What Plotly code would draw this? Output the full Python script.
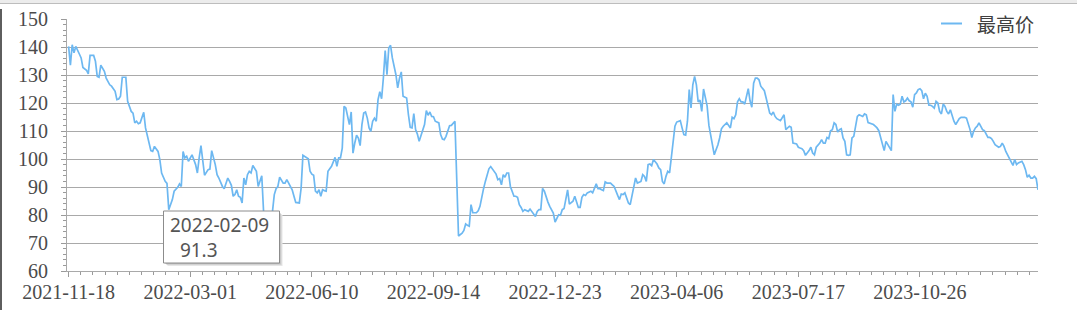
import plotly.graph_objects as go

# ---- data: trading-day index (0 = 2021-11-18) and daily high price ----
day_idx = [
    0, 1, 2, 3, 4, 5, 6, 7, 8, 10, 11, 12, 14, 15, 16, 17, 18, 20, 21, 23, 24, 26, 27, 28, 29, 30, 32, 33, 35, 36,
    37, 38, 39, 40, 42, 43, 45, 46, 47, 48, 50, 51, 52, 54, 55, 56, 58, 59, 61, 62, 63, 64, 65, 66, 67, 68, 69, 71,
    72, 73, 74, 76, 78, 79, 80, 82, 83, 84, 86,
    87, 89, 90, 91, 92, 93, 94, 95, 96, 97, 98, 99, 100, 101, 102, 103, 105, 106, 108, 109, 111, 114, 115, 116, 117,
    118, 120, 121, 122, 123, 125, 126, 127, 129, 130, 131, 133, 134, 135, 136, 137, 138, 139, 140, 141, 142, 143, 144,
    145, 146, 147, 149, 150, 151, 152, 153, 154, 155, 156, 157, 158, 159, 160, 161, 162, 163, 164, 165, 166, 167, 168,
    169, 170, 171, 172, 173, 174, 175,
    176, 177, 178, 179, 180, 181, 183, 184, 185, 186, 187, 189, 190, 191, 192, 193, 194, 195, 196, 198, 199, 200, 201,
    202, 203, 204, 205, 207, 208, 209, 210, 211, 213, 214, 215, 216, 218, 219, 220, 221, 222, 223, 224, 225, 226, 228,
    229, 230, 231, 232, 233, 235, 236, 237, 239, 240, 241, 242, 243, 244, 245, 246, 247, 249, 250, 251, 252, 253, 254,
    255, 256, 257, 258, 260, 261, 262, 263, 264, 265, 266, 267, 268,
    269, 271, 272, 273, 274, 275, 276, 277, 279, 280, 281, 282, 283, 285, 286, 287, 288, 289, 290, 291, 292, 293, 295,
    296, 297, 298, 299, 300, 301, 302, 303, 304, 305, 307, 308, 309, 310, 311, 312, 313, 314, 315, 316, 317, 318, 320,
    321, 322, 323, 324, 325, 326, 327, 329, 330, 331, 332, 333, 334, 335, 336, 337, 338, 339, 340, 342, 343, 344, 345,
    346, 347, 348, 349, 350, 351, 352, 353, 354, 355, 356, 357, 358, 359, 360, 361, 362, 363, 364, 365, 366, 367, 368,
    370, 371, 372, 373, 374, 375, 376, 377, 378, 380, 381, 382, 383, 384, 385, 386, 387, 389, 390, 391, 392, 393, 394,
    395, 396, 398, 399, 400, 401, 402, 403, 404, 405, 407, 408, 409, 410, 411, 412, 414, 415, 416, 417, 418, 419, 420,
    421, 422, 423, 424, 425, 426, 427, 428, 429, 430, 431, 432, 433, 434, 435, 436, 437, 438, 439, 440, 441, 442, 443,
    444, 445, 446, 447, 448, 450, 451, 452, 453, 454, 455, 456, 457, 458, 459, 460, 461, 462, 463, 464, 465, 466, 467,
    468, 469, 470, 471, 472, 473, 474, 475, 476, 477, 478, 479, 480, 481, 482, 483, 484, 485, 486, 487, 488, 489, 490,
    491, 492, 493, 494, 495, 496, 497, 498, 499, 501, 502, 503, 504, 505, 506, 507, 508, 509, 511, 512, 513, 514, 515,
    516, 517, 518, 520, 521, 522, 523, 524, 525, 526, 527, 528, 529, 530, 531, 533, 534, 535, 536, 537, 538, 539, 540,
    541, 542,
]
high = [
    140.2, 133.5, 140.8, 137.9, 140.2, 138.5, 137.5, 136.1, 132.7, 131.7, 130.4, 137.0, 137.0, 134.9, 129.5, 129.2,
    133.5, 131.3, 128.9, 126.5, 126.0, 124.2, 121.2, 121.4, 122.4, 129.2, 129.2, 120.6, 117.0, 116.4, 112.9, 113.5,
    112.6, 112.9, 116.7, 111.1, 106.3, 103.0, 102.7, 104.5, 102.7, 99.8, 95.0, 92.0, 91.3, 81.9, 85.5, 88.5, 89.9,
    91.1, 90.2, 102.7, 100.4, 101.0, 99.2, 100.4, 101.5, 98.0, 95.0, 100.4, 104.8, 94.2, 96.2, 96.4, 103.0, 98.0, 94.4,
    93.2, 90.2,
    89.4, 93.2, 92.0, 90.6, 86.7, 87.3, 89.0, 86.7, 86.3, 84.3, 93.2, 90.8, 94.4, 95.6, 95.0, 97.7, 95.6, 90.2, 94.0,
    81.3, 79.0, 81.3, 87.3, 89.4, 90.2, 93.5, 91.4, 91.4, 92.6, 91.4, 89.0, 86.7, 84.5, 84.3, 89.6, 101.3, 100.4,
    100.1, 95.6, 94.6, 94.2, 88.5, 87.9, 89.0, 86.7, 89.0, 88.7, 88.5, 95.6, 96.5, 97.4, 100.6, 97.4, 100.4, 100.4,
    103.9, 118.8, 118.2, 114.6, 112.3, 116.8, 102.1, 105.7, 108.5, 107.5, 104.8, 112.3, 116.4, 116.8, 114.6, 111.1,
    109.9, 113.5, 114.6, 113.5, 121.2, 124.0, 121.5,
    129.0, 138.7, 130.1, 139.6, 140.6, 136.1, 130.1, 125.4, 128.9, 131.1, 122.4, 121.8, 115.8, 111.3, 111.1, 116.2,
    110.5, 108.9, 106.3, 110.5, 112.3, 117.3, 115.6, 116.8, 115.2, 115.1, 113.5, 112.9, 108.7, 107.1, 106.9, 108.1,
    111.9, 112.0, 112.9, 113.5, 72.5, 73.0, 73.5, 74.5, 76.8, 76.3, 76.0, 83.7, 80.8, 80.8, 81.5, 83.1, 86.7, 89.4,
    92.0, 96.5, 97.3, 96.5, 94.6, 92.6, 93.0, 90.8, 94.4, 93.5, 95.0, 95.0, 90.2, 86.7, 86.7, 86.3, 83.7, 82.7, 81.3,
    81.9, 81.5, 81.3, 82.1, 80.4, 79.5, 81.3, 81.9, 81.9, 89.5, 88.5, 86.1, 84.6,
    83.1, 80.7, 77.5, 78.9, 80.1, 79.9, 81.9, 82.3, 89.0, 83.9, 84.3, 84.9, 86.7, 82.7, 82.7, 86.3, 87.3, 87.0, 87.9,
    88.2, 88.5, 87.9, 91.1, 89.4, 89.4, 89.0, 88.7, 91.8, 91.4, 91.4, 91.4, 90.8, 90.2, 87.0, 85.5, 87.5, 87.3, 87.9,
    86.3, 84.3, 83.7, 86.7, 89.6, 93.2, 91.4, 92.0, 94.4, 93.8, 92.0, 98.0, 98.2, 97.6, 99.8, 98.2, 96.8, 96.2, 92.0,
    91.1, 93.8, 95.6, 95.0, 100.4, 107.5, 111.7, 113.2, 113.7, 111.1, 108.7, 108.5,
    113.5, 124.8, 118.2, 126.5, 129.5, 126.5, 120.4, 121.0, 117.0, 125.0, 121.2, 119.0, 112.0, 108.0, 105.0, 101.5,
    103.3, 105.0, 107.5, 110.8, 111.7, 112.3, 112.9, 111.1, 114.9, 114.4, 115.8, 120.4, 121.5, 120.4, 120.4, 119.6,
    125.1, 120.8, 118.5, 127.1, 128.9, 128.9, 128.3, 126.0, 124.4, 121.8, 118.8, 116.4, 115.8, 116.8, 115.2, 114.4,
    113.7, 114.9, 115.8, 110.5, 111.1, 111.7, 111.3, 105.7, 105.4, 104.2, 103.9, 103.7, 103.0, 101.3, 103.0, 104.2,
    102.1, 101.5, 104.2, 104.9, 105.7, 106.9, 105.7, 105.7, 107.7, 107.3, 110.1, 110.5, 112.9, 112.3, 109.6, 110.5,
    110.8, 107.5, 106.3, 101.5, 101.3, 101.5, 107.5, 108.1, 112.5, 115.2, 115.8, 115.6, 115.2, 116.1, 115.8, 113.0,
    112.7, 112.3, 111.7, 111.1, 110.1, 107.5, 105.7, 103.0, 106.3, 105.1, 103.9, 103.0, 123.0, 117.0, 119.6, 119.2,
    119.6, 122.4, 120.4, 120.8, 121.8, 120.8, 120.4, 118.5, 123.0, 123.6, 124.8, 125.1, 124.4, 121.5, 123.5, 122.4,
    119.2, 119.2, 118.8, 118.2, 120.6, 120.0, 117.0, 116.1, 119.6, 118.8, 117.0, 116.1, 117.6, 115.2, 113.5, 112.3,
    113.5, 114.4, 114.9, 114.9, 114.6, 112.9, 110.5, 107.7, 109.9, 111.1, 111.7, 112.9, 110.5, 110.1, 108.7, 107.7,
    107.7, 107.3, 106.3, 105.1, 104.2, 104.5, 105.7, 104.5, 102.7, 101.5, 100.4, 99.2, 97.7, 99.8, 98.0, 98.6, 99.2,
    98.0, 96.2, 93.5, 94.2, 93.2, 93.2, 93.8, 93.0, 89.0,
]
tick_idx = [0, 68, 136, 204, 272, 340, 408, 476]
tick_labels = ["2021-11-18", "2022-03-01", "2022-06-10", "2022-09-14",
               "2022-12-23", "2023-04-06", "2023-07-17", "2023-10-26"]
series_name = "最高价"
tooltip_date = "2022-02-09"
tooltip_idx = 55

W, H = 1077, 310
ML, MR, MT, MB = 67, 39, 19, 39
PW, PH = W - ML - MR, H - MT - MB


def fx(px):
    return (px - ML) / PW


def fy(py):
    return (H - MB - py) / PH


LINE_C = "#6db8f1"
GRID_C = "#a9a9a9"
TXT_C = "#4b4b4b"

fig = go.Figure()
fig.add_trace(go.Scatter(x=day_idx, y=high, mode="lines", name=series_name,
                         line=dict(color=LINE_C, width=1.7), showlegend=False,
                         hoverinfo="skip"))

fig.update_layout(
    width=W, height=H,
    margin=dict(l=ML, r=MR, t=MT, b=MB, pad=0, autoexpand=False),
    paper_bgcolor="white", plot_bgcolor="white",
)
fig.update_xaxes(
    range=[-0.9, 542], tickmode="array", tickvals=tick_idx, ticktext=tick_labels,
    ticks="outside", ticklen=5, tickcolor="#9a9a9a", tickwidth=1, automargin=False,
    showline=True, linecolor=GRID_C, linewidth=1, showgrid=False, zeroline=False,
    minor=dict(tickmode="linear", tick0=0, dtick=6.8, ticks="outside", ticklen=3,
               tickcolor="#9a9a9a", showgrid=False),
    tickfont=dict(family="Liberation Serif", size=20, color=TXT_C),
    ticklabelstandoff=-2,
)
fig.update_yaxes(
    range=[60, 150], tickmode="linear", tick0=60, dtick=10, automargin=False,
    ticks="outside", ticklen=5, tickcolor="#9a9a9a", tickwidth=1,
    showline=True, linecolor=GRID_C, linewidth=1,
    showgrid=True, gridcolor=GRID_C, gridwidth=1, zeroline=False,
    minor=dict(tickmode="linear", tick0=60, dtick=2, ticks="outside", ticklen=3,
               tickcolor="#9a9a9a", showgrid=False),
    tickfont=dict(family="Liberation Serif", size=20, color=TXT_C),
    ticklabelstandoff=9,
)

shapes = []
ann = []
# window frame decoration: top strip and left border
shapes.append(dict(type="rect", xref="paper", yref="paper", x0=fx(0), x1=fx(W), y0=fy(0), y1=fy(3),
                   fillcolor="#ececec", line=dict(width=0), layer="above"))
shapes.append(dict(type="line", xref="paper", yref="paper", x0=fx(0), x1=fx(W), y0=fy(3.5), y1=fy(3.5),
                   line=dict(color="#bdbdbd", width=1), layer="above"))
shapes.append(dict(type="line", xref="paper", yref="paper", x0=fx(1), x1=fx(1), y0=fy(9), y1=fy(H),
                   line=dict(color="#5e5e5e", width=2), layer="above"))

# legend (white box hides top grid line)
shapes.append(dict(type="rect", xref="paper", yref="paper", x0=fx(933), x1=fx(1046), y0=fy(9), y1=fy(37),
                   fillcolor="white", line=dict(width=0), layer="above"))
shapes.append(dict(type="line", xref="paper", yref="paper", x0=fx(941), x1=fx(962), y0=fy(23.5), y1=fy(23.5),
                   line=dict(color=LINE_C, width=2), layer="above"))
ann.append(dict(xref="paper", yref="paper", x=fx(975), y=fy(23), xanchor="left", yanchor="middle",
                text=series_name, showarrow=False,
                font=dict(family="Noto Sans CJK SC", size=19, color="#404040")))

# tooltip box with soft shadow
bx0, bx1, by0, by1 = 163.5, 279.5, 211, 263
for k, c in enumerate(["#e6e6e6", "#d2d2d2", "#bdbdbd"]):
    off = 3 - k
    shapes.append(dict(type="rect", xref="paper", yref="paper",
                       x0=fx(bx0 + off + 1), x1=fx(bx1 + off), y0=fy(by0 + off + 1), y1=fy(by1 + off),
                       fillcolor=c, line=dict(width=0), layer="above"))
shapes.append(dict(type="rect", xref="paper", yref="paper", x0=fx(bx0), x1=fx(bx1), y0=fy(by0), y1=fy(by1),
                   fillcolor="white", line=dict(color="#8c8c8c", width=1), layer="above"))
tip_val = high[day_idx.index(tooltip_idx)]
ann.append(dict(xref="paper", yref="paper", x=fx(168), y=fy(237.5), xanchor="left", yanchor="middle",
                text=f"{tooltip_date}<br>&nbsp;&nbsp;{tip_val:.1f}", align="left", showarrow=False,
                font=dict(family="Noto Sans", size=19, color="#555555")))

fig.update_layout(shapes=shapes, annotations=ann)
fig.write_html("out.html")
